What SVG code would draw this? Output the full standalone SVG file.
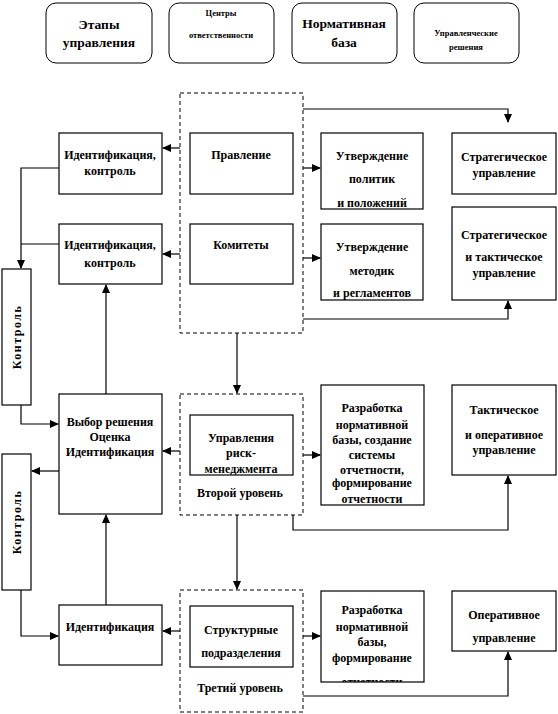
<svg xmlns="http://www.w3.org/2000/svg" width="558" height="714" viewBox="0 0 558 714">
<style>
text{font-family:"Liberation Serif","Times New Roman",serif;font-weight:bold;fill:#000;text-anchor:middle}
.b{fill:#fff;stroke:#000;stroke-width:1.2}
.h{fill:#fff;stroke:#000;stroke-width:1}
.d{fill:none;stroke:#000;stroke-width:1;stroke-dasharray:4,3}
.t{font-size:12px}
.hs{font-size:13.5px}
.hm{font-size:8.5px}
.c line,.c polyline{fill:none;stroke:#000;stroke-width:1.2}
</style>
<defs>
<marker id="a" markerWidth="9" markerHeight="8" refX="8" refY="4" orient="auto" markerUnits="userSpaceOnUse"><path d="M0,0 L9,4 L0,8 Z" fill="#000"/></marker>
<clipPath id="cp"><rect x="321" y="591" width="103" height="91"/></clipPath>
</defs>
<rect width="558" height="714" fill="#fff"/>

<g id="hdr1"><rect class="h" x="46" y="3" width="106" height="60" rx="10"/><text class="hs" x="99" y="29">Этапы</text><text class="hs" x="99" y="47">управления</text></g>
<g id="hdr2"><rect class="h" x="169" y="3" width="105" height="60" rx="10"/><text class="hm" x="221" y="16">Центры</text><text class="hm" x="221" y="38">ответственности</text></g>
<g id="hdr3"><rect class="h" x="292" y="3" width="105" height="60" rx="10"/><text class="hs" x="344" y="28">Нормативная</text><text class="hs" x="344" y="47">база</text></g>
<g id="hdr4"><rect class="h" x="414" y="3" width="105" height="60" rx="10"/><text class="hm" x="466" y="36">Управленческие</text><text class="hm" x="466" y="50">решения</text></g>

<g id="level1"><rect class="d" x="180" y="93" width="123" height="240"/></g>
<g id="level2"><rect class="d" x="180" y="394" width="123" height="121"/><text class="t" x="240" y="497">Второй уровень</text></g>
<g id="level3"><rect class="d" x="180" y="590" width="123" height="122"/><text class="t" x="240" y="692">Третий уровень</text></g>

<g class="c" id="connectors">
<line x1="180" y1="148" x2="163" y2="148" marker-end="url(#a)"/>
<line x1="180" y1="254" x2="163" y2="254" marker-end="url(#a)"/>
<polyline points="59,168 21,168 21,268" marker-end="url(#a)"/>
<line x1="59" y1="244" x2="21" y2="244"/>
<line x1="106" y1="394" x2="106" y2="285" marker-end="url(#a)"/>
<polyline points="303,109 508,109 508,122" marker-end="url(#a)"/>
<line x1="303" y1="168" x2="320" y2="168" marker-end="url(#a)"/>
<line x1="303" y1="258" x2="320" y2="258" marker-end="url(#a)"/>
<polyline points="303,319 508,319 508,301" marker-end="url(#a)"/>
<polyline points="21,405 21,424 58,424" marker-end="url(#a)"/>
<line x1="59" y1="471" x2="32" y2="471" marker-end="url(#a)"/>
<line x1="237" y1="333" x2="237" y2="393" marker-end="url(#a)"/>
<line x1="180" y1="451" x2="163" y2="451" marker-end="url(#a)"/>
<line x1="303" y1="455" x2="320" y2="455" marker-end="url(#a)"/>
<polyline points="293,515 293,530 508,530 508,476" marker-end="url(#a)"/>
<polyline points="21,590 21,636 58,636" marker-end="url(#a)"/>
<line x1="106" y1="605" x2="106" y2="515" marker-end="url(#a)"/>
<line x1="237" y1="515" x2="237" y2="589" marker-end="url(#a)"/>
<line x1="180" y1="631" x2="163" y2="631" marker-end="url(#a)"/>
<line x1="303" y1="636" x2="320" y2="636" marker-end="url(#a)"/>
<polyline points="303,696 508,696 508,652" marker-end="url(#a)"/>
</g>

<g id="id1"><rect class="b" x="59" y="133" width="103" height="61"/><text class="t" x="110" y="159">Идентификация,</text><text class="t" x="110" y="175">контроль</text></g>
<g id="id2"><rect class="b" x="59" y="224" width="103" height="60"/><text class="t" x="110" y="249">Идентификация,</text><text class="t" x="110" y="267">контроль</text></g>
<g id="choice"><rect class="b" x="59" y="394" width="103" height="120"/><text class="t" x="110" y="426">Выбор решения</text><text class="t" x="110" y="441">Оценка</text><text class="t" x="110" y="456">Идентификация</text></g>
<g id="id3"><rect class="b" x="59" y="605" width="103" height="60"/><text class="t" x="110" y="631">Идентификация</text></g>

<g id="ctrl1"><rect class="b" x="2" y="269" width="29" height="136"/><text class="t" transform="translate(21,337) rotate(-90)" letter-spacing="1.5">Контроль</text></g>
<g id="ctrl2"><rect class="b" x="2" y="454" width="29" height="136"/><text class="t" transform="translate(21,522) rotate(-90)" letter-spacing="1.5">Контроль</text></g>

<g id="board"><rect class="b" x="190" y="133" width="103" height="61"/><text class="t" x="241" y="159">Правление</text></g>
<g id="committees"><rect class="b" x="190" y="224" width="103" height="60"/><text class="t" x="241" y="249">Комитеты</text></g>
<g id="risk"><rect class="b" x="190" y="415" width="103" height="60"/><text class="t" x="241" y="442">Управления</text><text class="t" x="241" y="457">риск-</text><text class="t" x="241" y="473">менеджмента</text></g>
<g id="units"><rect class="b" x="190" y="606" width="103" height="61"/><text class="t" x="241" y="634">Структурные</text><text class="t" x="241" y="657">подразделения</text></g>

<g id="norm1"><rect class="b" x="321" y="133" width="102" height="76"/><text class="t" x="372" y="160">Утверждение</text><text class="t" x="372" y="183">политик</text><text class="t" x="372" y="207">и положений</text></g>
<g id="norm2"><rect class="b" x="321" y="224" width="102" height="76"/><text class="t" x="372" y="251">Утверждение</text><text class="t" x="372" y="275">методик</text><text class="t" x="372" y="297">и регламентов</text></g>
<g id="norm3"><rect class="b" x="321" y="385" width="103" height="120"/><text class="t" x="372" y="412">Разработка</text><text class="t" x="372" y="429">нормативной</text><text class="t" x="372" y="444">базы, создание</text><text class="t" x="372" y="459">системы</text><text class="t" x="372" y="474">отчетности,</text><text class="t" x="372" y="487">формирование</text><text class="t" x="372" y="503">отчетности</text></g>
<g id="norm4"><rect class="b" x="321" y="591" width="103" height="91"/><g clip-path="url(#cp)"><text class="t" x="372" y="614">Разработка</text><text class="t" x="372" y="631">нормативной</text><text class="t" x="372" y="646">базы,</text><text class="t" x="372" y="662">формирование</text><text class="t" x="372" y="686">отчетности</text></g></g>

<g id="dec1"><rect class="b" x="452" y="133" width="104" height="61"/><text class="t" x="504" y="161">Стратегическое</text><text class="t" x="504" y="177">управление</text></g>
<g id="dec2"><rect class="b" x="452" y="207" width="104" height="93"/><text class="t" x="504" y="239">Стратегическое</text><text class="t" x="504" y="261">и тактическое</text><text class="t" x="504" y="277">управление</text></g>
<g id="dec3"><rect class="b" x="452" y="385" width="104" height="90"/><text class="t" x="504" y="414">Тактическое</text><text class="t" x="504" y="439">и оперативное</text><text class="t" x="504" y="454">управление</text></g>
<g id="dec4"><rect class="b" x="452" y="591" width="104" height="60"/><text class="t" x="504" y="619">Оперативное</text><text class="t" x="504" y="642">управление</text></g>
</svg>
